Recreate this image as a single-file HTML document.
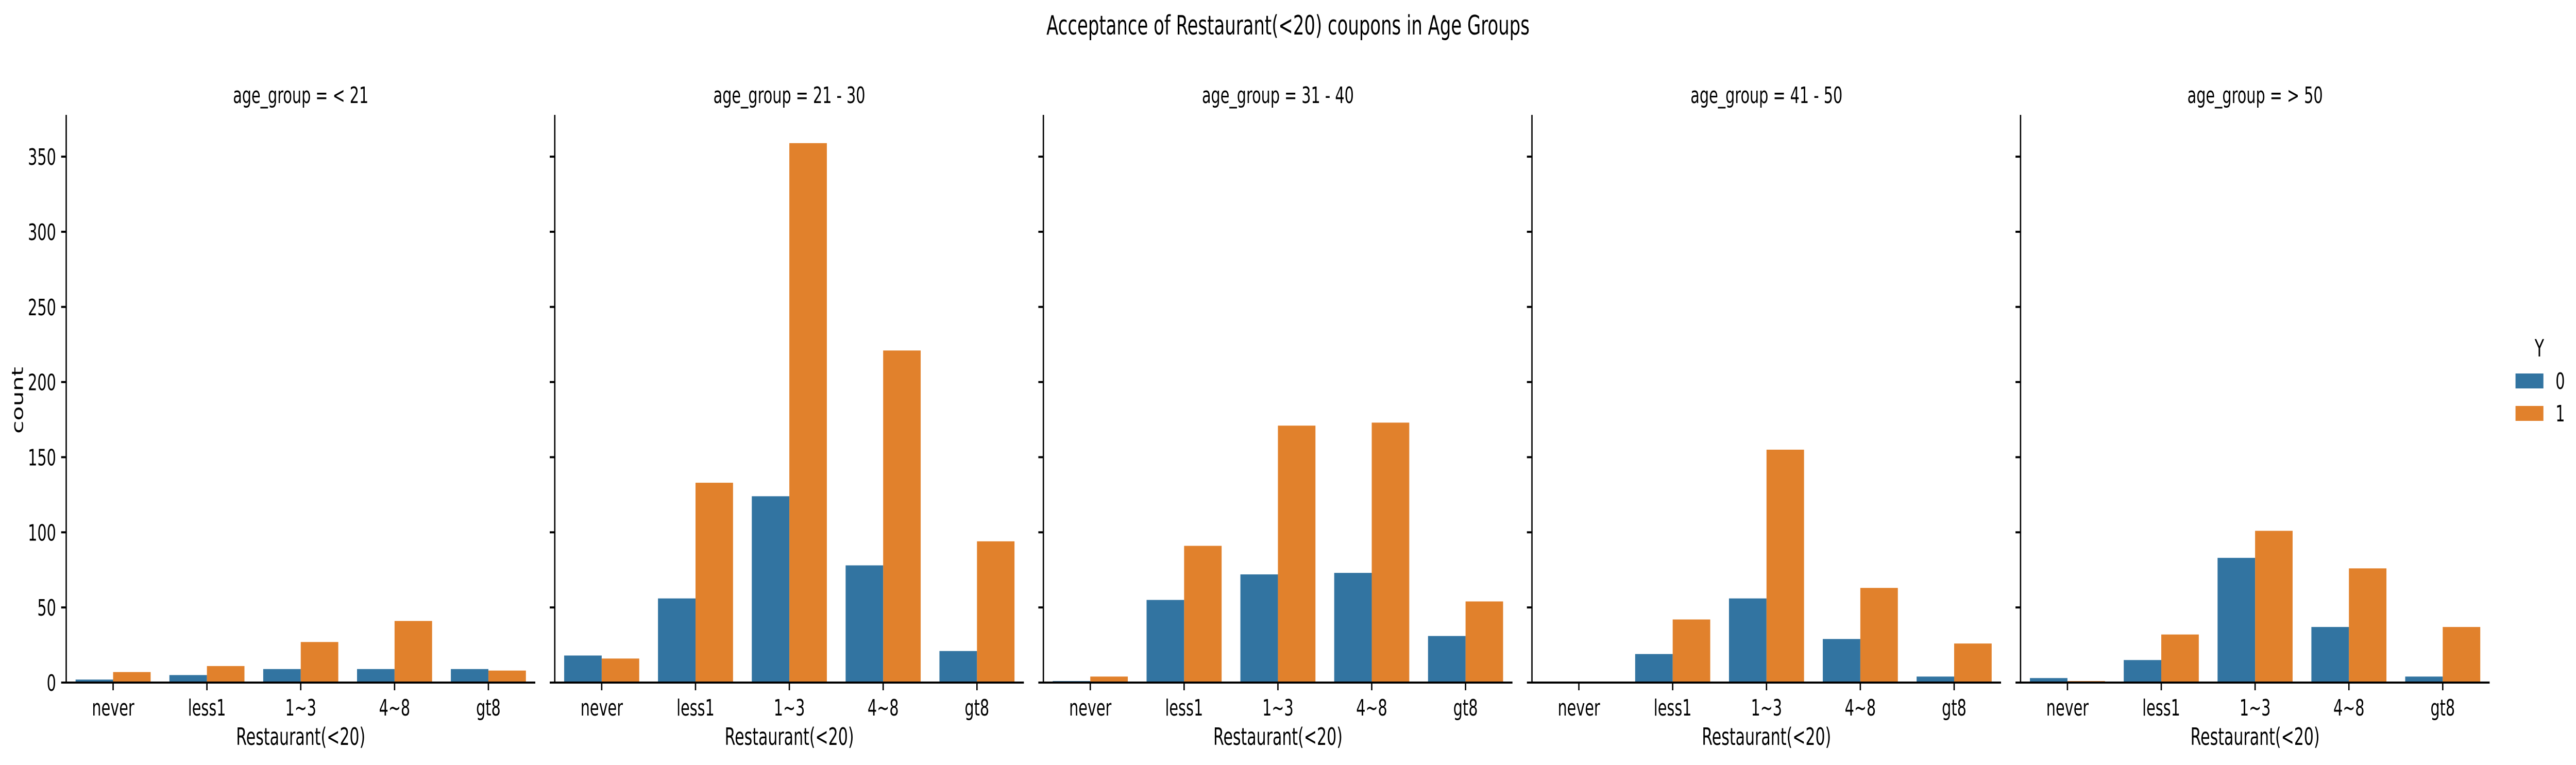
<!DOCTYPE html>
<html><head><meta charset="utf-8"><style>
html,body{margin:0;padding:0;background:#fff;overflow:hidden;width:100%;height:100%;}
svg{display:block;width:100vw;height:100vh;font-family:"DejaVu Sans","Liberation Sans",sans-serif;}
</style></head><body>
<svg id="chart" viewBox="0 0 7666 1485" preserveAspectRatio="none" xmlns="http://www.w3.org/2000/svg">
<text x="3833" y="67" font-size="52" text-anchor="middle">Acceptance of Restaurant(&lt;20) coupons in Age Groups</text>
<g id="panels"></g>
<g>
<text x="7557" y="692" font-size="46" text-anchor="middle">Y</text>
<rect x="7486" y="725" width="83" height="29" fill="#3274a1"/>
<text x="7605" y="755" font-size="44">0</text>
<rect x="7486" y="788" width="83" height="29" fill="#e1812c"/>
<text x="7605" y="818" font-size="44">1</text>
</g>
</svg>
<script>
const categories = ["never","less1","1~3","4~8","gt8"];
const ageGroups = ["< 21","21 - 30","31 - 40","41 - 50","> 50"];
const series0 = [
  [2,5,9,9,9],
  [18,56,124,78,21],
  [1,55,72,73,31],
  [0,19,56,29,4],
  [3,15,83,37,4]
];
const series1 = [
  [7,11,27,41,8],
  [16,133,359,221,94],
  [4,91,171,173,54],
  [0,42,155,63,26],
  [1,32,101,76,37]
];
const yTicks = [0,50,100,150,200,250,300,350];

const NS = "http://www.w3.org/2000/svg";
const g = document.getElementById("panels");
const P0 = 197, PSTEP = 1454, PW = 1396, TOP = 223, BOT = 1325, YMAX = 377.8;
const colors = ["#3274a1","#e1812c"];
function mk(tag, attrs, parent){const e=document.createElementNS(NS,tag);for(const k in attrs)e.setAttribute(k,attrs[k]);parent.appendChild(e);return e;}
function yScale(v){return BOT - v*(BOT-TOP)/YMAX;}
ageGroups.forEach((ag, p) => {
  const x0 = P0 + p*PSTEP;
  const band = PW/categories.length;
  const xScale = i => x0 + band*(i+0.5);
  const panel = mk("g", {}, g);
  
  
  const t = mk("text", {x: x0+PW/2, y: 200, "font-size": 44, "text-anchor": "middle"}, panel);
  t.textContent = "age_group = " + ag;
  
  
  const bw = band*0.4;
  [series0[p], series1[p]].forEach((vals, s) => {
    vals.forEach((v, i) => {
      const cx = xScale(i);
      const bx = s===0 ? cx-bw : cx;
      const r = mk("rect", {x: bx, y: yScale(v), width: bw, height: BOT-yScale(v), fill: colors[s]}, panel);
      
      
    });
  });
  const ya = mk("line", {x1: x0, y1: TOP, x2: x0, y2: BOT+2, stroke: "#000", "stroke-width": 4}, panel);
  
  
  yTicks.forEach(v => {
    const y = yScale(v);
    const tk = mk("line", {x1: x0-15, y1: y, x2: x0, y2: y, stroke: "#000", "stroke-width": 4}, panel);
    
    
    if (p===0){
      const lt = mk("text", {x: x0-30, y: y+16, "font-size": 44, "text-anchor": "end"}, panel);
      lt.textContent = v;
      
      
    }
  });
  const xa = mk("line", {x1: x0-2, y1: BOT, x2: x0+PW, y2: BOT, stroke: "#000", "stroke-width": 4}, panel);
  
  
  categories.forEach((c, i) => {
    const x = xScale(i);
    const tk = mk("line", {x1: x, y1: BOT, x2: x, y2: BOT+15, stroke: "#000", "stroke-width": 4}, panel);
    
    
    const lt = mk("text", {x: x, y: 1389, "font-size": 44, "text-anchor": "middle"}, panel);
    lt.textContent = c;
    
    
  });
  const xl = mk("text", {x: x0+PW/2, y: 1446, "font-size": 46, "text-anchor": "middle"}, panel);
  xl.textContent = "Restaurant(<20)";
  
  
  if (p===0){
    const yl = mk("text", {x: 0, y: 0, "font-size": 46, "text-anchor": "middle", transform: "translate(68,777) rotate(-90)"}, panel);
    yl.textContent = "count";
    
    
  }
});
</script>
</body></html>
